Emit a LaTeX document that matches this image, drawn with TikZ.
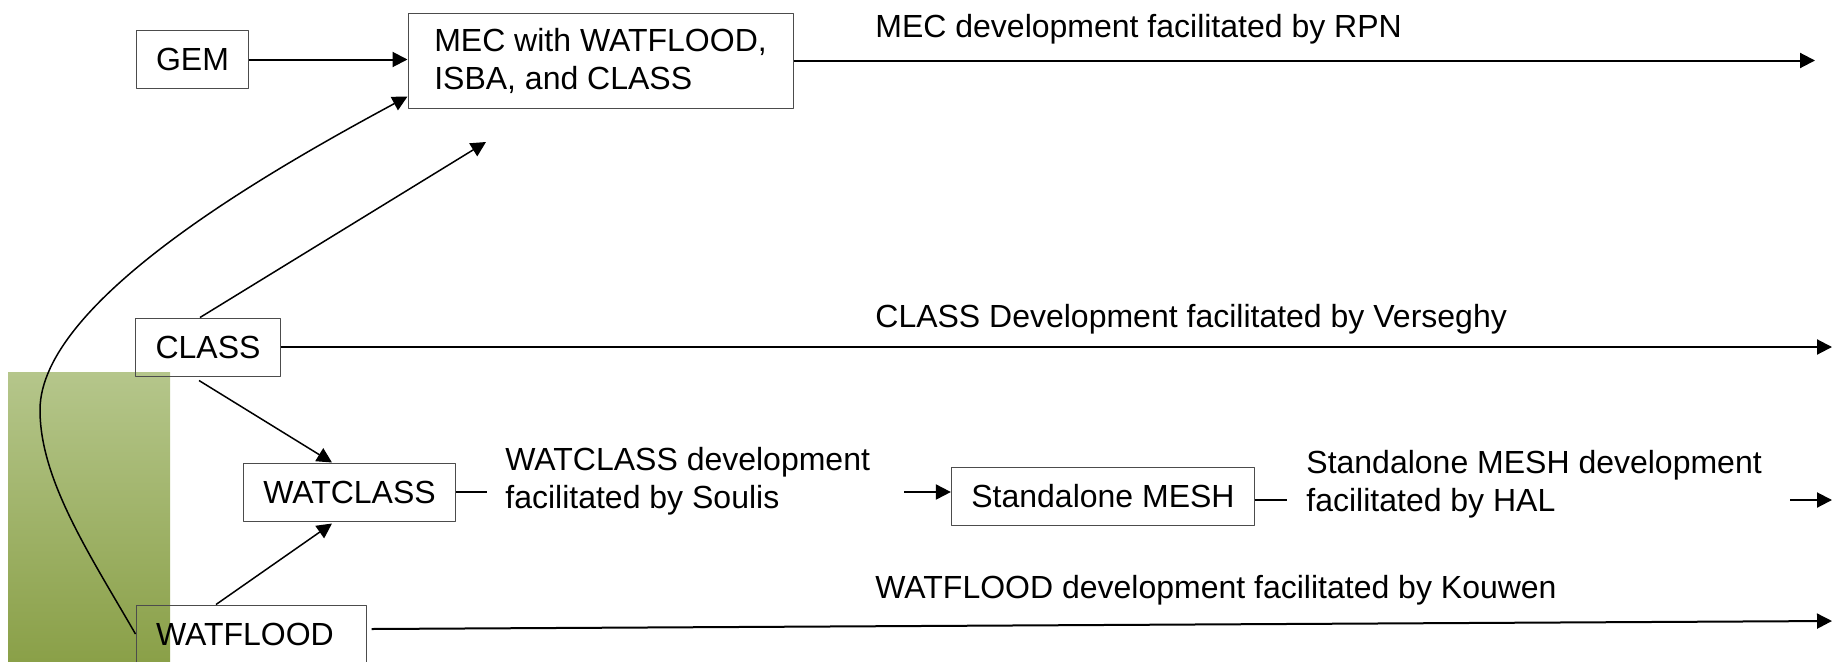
\documentclass[tikz,border=0pt]{standalone}
\usepackage{fontspec}
\setmainfont{Liberation Sans}
\usetikzlibrary{arrows.meta}

\definecolor{bandtop}{RGB}{181,198,139}
\definecolor{bandbottom}{RGB}{138,160,72}

\tikzset{
  box/.style={draw=black!70,line width=0.5pt,inner xsep=10pt,inner ysep=0pt,minimum height=29pt},
  note/.style={inner sep=0pt},
  link/.style={black,line width=1pt},
  diag/.style={black,line width=0.75pt},
}

\begin{document}
\begin{tikzpicture}[>={Triangle[length=7.5pt,width=7.5pt]},line join=bevel,font=\fontsize{16pt}{19pt}\selectfont]
\useasboundingbox (0pt,0pt) rectangle (917pt,330.5pt);
%% green band
\shade [top color=bandtop,bottom color=bandbottom] (4pt,0pt) rectangle (85pt,144.5pt);
%% model boxes
\node (node_gem) at (96.25pt,300.75pt) [box] {GEM};
  \node (node_mec) at (300.25pt,300.25pt) [box,minimum width=192.5pt,minimum height=47.5pt,align=left] {MEC with WATFLOOD,\\ISBA, and CLASS};
  \node (node_class) at (104pt,157pt) [box] {CLASS};
  \node (node_watclass) at (174.75pt,84.5pt) [box] {WATCLASS};
  \node (node_watflood) at (125.5pt,13.5pt) [box,text width=95pt,align=left] {WATFLOOD};
  \node (node_mesh) at (551.5pt,82.5pt) [box] {Standalone MESH};
%% development notes
\node (node_rpn) at (437.5pt,312pt) [note,anchor=base west] {MEC development facilitated by RPN};
  \node (node_verseghy) at (437.5pt,167pt) [note,anchor=base west] {CLASS Development facilitated by Verseghy};
  \node (node_kouwen) at (437.5pt,31.5pt) [note,anchor=base west] {WATFLOOD development facilitated by Kouwen};
  \node (node_soulis) at (252.5pt,107.1pt) [note,anchor=north west,align=left] {WATCLASS development\\facilitated by Soulis};
  \node (node_hal) at (653pt,105.6pt) [note,anchor=north west,align=left] {Standalone MESH development\\facilitated by HAL};
%% free ends
\coordinate (coord_mec_end) at (907.5pt,300.25pt);
  \coordinate (coord_class_end) at (916pt,157pt);
  \coordinate (coord_watflood_end) at (916pt,20pt);
  \coordinate (coord_class_tip) at (243pt,259.5pt);
  \coordinate (coord_soulis_in) at (243.5pt,84.5pt);
  \coordinate (coord_soulis_out) at (452pt,84.5pt);
  \coordinate (coord_hal_in) at (643.5pt,80.5pt);
  \coordinate (coord_hal_out) at (895pt,80.5pt);
  \coordinate (coord_hal_end) at (916pt,80.5pt);
%% connectors
\draw [link,->] (node_gem) -- (node_gem -| node_mec.west);
  \draw [link,->] (node_mec) -- (coord_mec_end);
  \draw [link,->] (node_class) -- (coord_class_end);
  \draw [link,->] ([xshift=2.5pt,yshift=2.5pt]node_watflood.east) -- (coord_watflood_end);
  \draw [diag,->] ([xshift=-4pt]node_class.north) -- (coord_class_tip);
  \draw [diag,->] ([xshift=-4.5pt,yshift=-2pt]node_class.south) -- ([xshift=-8.75pt]node_watclass.north);
  \draw [diag,->] ([xshift=-17.5pt]node_watflood.north) -- ([xshift=-8.75pt,yshift=-1pt]node_watclass.south);
  \draw [diag,->] (node_watflood.west) .. controls (45pt,53pt) and (20pt,90.5pt) .. (20pt,125.5pt) .. controls (20pt,180.5pt) and (137.5pt,246.5pt) .. ([yshift=6pt]node_mec.south west);
  \draw [link] (node_watclass) -- (coord_soulis_in);
  \draw [link,->] (coord_soulis_out) -- (coord_soulis_out -| node_mesh.west);
  \draw [link] ([yshift=-2pt]node_mesh.east) -- (coord_hal_in);
  \draw [link,->] (coord_hal_out) -- (coord_hal_end);
%
\end{tikzpicture}
\end{document}
